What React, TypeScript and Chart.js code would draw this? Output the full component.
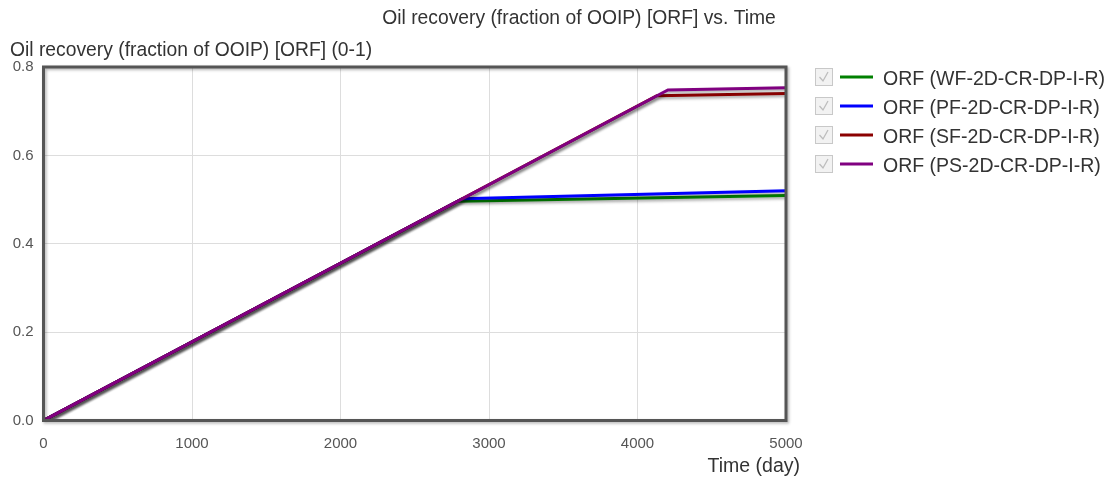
import React, { useEffect, useRef } from "react";
import { Chart, registerables } from "chart.js";

Chart.register(...registerables);

// Oil recovery factor (fraction of OOIP) over time for four recovery cases.
const seriesNames = [
  "ORF (WF-2D-CR-DP-I-R)",
  "ORF (PF-2D-CR-DP-I-R)",
  "ORF (SF-2D-CR-DP-I-R)",
  "ORF (PS-2D-CR-DP-I-R)",
];
const seriesColors = ["#008000", "#0000ff", "#8b0000", "#800080"];

const wfDays = [0, 2790, 5000];
const wfOrf = [0, 0.496, 0.509];
const pfDays = [0, 2820, 5000];
const pfOrf = [0, 0.502, 0.52];
const sfDays = [0, 4130, 5000];
const sfOrf = [0, 0.735, 0.74];
const psDays = [0, 4205, 5000];
const psOrf = [0, 0.748, 0.753];

const xTicks = [0, 1000, 2000, 3000, 4000, 5000];
const yTicks = [0, 0.2, 0.4, 0.6, 0.8];

const chartTitle = "Oil recovery (fraction of OOIP) [ORF] vs. Time";
const yTitle = "Oil recovery (fraction of OOIP) [ORF] (0-1)";
const xTitle = "Time (day)";

const FONT = '"Liberation Sans", Arial, sans-serif';

const toPoints = (days: number[], vals: number[]) =>
  days.map((d, i) => ({ x: d, y: vals[i] }));

const decorations = {
  id: "decorations",
  beforeDatasetDraw(chart: any) {
    const ctx = chart.ctx;
    ctx.save();
    ctx.shadowColor = "rgba(0,0,0,0.35)";
    ctx.shadowBlur = 3;
    ctx.shadowOffsetX = 1.5;
    ctx.shadowOffsetY = 2;
  },
  afterDatasetDraw(chart: any) {
    chart.ctx.restore();
  },
  afterDraw(chart: any) {
    const ctx = chart.ctx;
    const a = chart.chartArea;
    // plot frame
    ctx.save();
    ctx.shadowColor = "rgba(0,0,0,0.3)";
    ctx.shadowBlur = 3;
    ctx.shadowOffsetX = 1.5;
    ctx.shadowOffsetY = 1.5;
    ctx.strokeStyle = "#555555";
    ctx.lineWidth = 3;
    ctx.strokeRect(a.left, a.top, a.right - a.left, a.bottom - a.top);
    ctx.restore();

    ctx.save();
    ctx.fillStyle = "#333333";
    ctx.font = `19.3px ${FONT}`;
    ctx.textBaseline = "alphabetic";
    ctx.textAlign = "center";
    ctx.fillText(chartTitle, 579, 24);
    ctx.textAlign = "left";
    ctx.fillText(yTitle, 10, 56);
    ctx.textAlign = "right";
    ctx.font = `19.5px ${FONT}`;
    ctx.fillText(xTitle, 800, 472);

    // legend
    const rowY = [77, 106, 135, 164];
    ctx.font = `19.5px ${FONT}`;
    ctx.textAlign = "left";
    seriesNames.forEach((name, i) => {
      const y = rowY[i];
      ctx.fillStyle = "#f2f2f2";
      ctx.strokeStyle = "#c8c8c8";
      ctx.lineWidth = 1;
      ctx.fillRect(815.5, y - 8.5, 17, 17);
      ctx.strokeRect(815.5, y - 8.5, 17, 17);
      ctx.strokeStyle = "#bdbdbd";
      ctx.lineWidth = 1.3;
      ctx.beginPath();
      ctx.moveTo(819.5, y);
      ctx.lineTo(823, y + 4);
      ctx.lineTo(828, y - 5);
      ctx.stroke();
      ctx.strokeStyle = seriesColors[i];
      ctx.lineWidth = 3;
      ctx.beginPath();
      ctx.moveTo(840, y);
      ctx.lineTo(873, y);
      ctx.stroke();
      ctx.fillStyle = "#333333";
      ctx.fillText(name, 883, y + 8);
    });
    ctx.restore();
  },
};

export default function App() {
  const canvasRef = useRef<HTMLCanvasElement | null>(null);

  useEffect(() => {
    if (!canvasRef.current) return;
    const allDays = [wfDays, pfDays, sfDays, psDays];
    const allVals = [wfOrf, pfOrf, sfOrf, psOrf];
    const chart = new Chart(canvasRef.current, {
      type: "line",
      data: {
        datasets: seriesNames.map((name, i) => ({
          label: name,
          data: toPoints(allDays[i], allVals[i]),
          borderColor: seriesColors[i],
          backgroundColor: seriesColors[i],
          borderWidth: 3,
          pointRadius: 0,
          tension: 0,
          fill: false,
          // later series are painted over earlier ones
          order: seriesNames.length - i,
        })),
      },
      options: {
        animation: false,
        responsive: false,
        layout: { padding: { top: 67, left: 0, right: 323, bottom: 0 } },
        plugins: {
          legend: { display: false },
          title: { display: false },
          tooltip: { enabled: false },
        },
        scales: {
          x: {
            type: "linear",
            min: 0,
            max: 5000,
            afterBuildTicks: (scale: any) => {
              scale.ticks = xTicks.map((v) => ({ value: v }));
            },
            afterFit: (scale: any) => {
              scale.height = 56.5;
            },
            grid: { color: "#dddddd", drawTicks: false },
            border: { display: false },
            ticks: {
              color: "#555555",
              font: { family: FONT, size: 15 },
              padding: 14,
              maxRotation: 0,
              callback: (v: any) => String(v),
            },
          },
          y: {
            type: "linear",
            min: 0,
            max: 0.8,
            afterBuildTicks: (scale: any) => {
              scale.ticks = yTicks.map((v) => ({ value: v }));
            },
            afterFit: (scale: any) => {
              scale.width = 43.5;
            },
            grid: { color: "#dddddd", drawTicks: false },
            border: { display: false },
            ticks: {
              color: "#555555",
              font: { family: FONT, size: 15 },
              padding: 10,
              callback: (v: any) => Number(v).toFixed(1),
            },
          },
        },
      },
      plugins: [decorations],
    });
    return () => chart.destroy();
  }, []);

  return (
    <div style={{ position: "absolute", left: 0, top: 0, width: 1109, height: 477, background: "#fff" }}>
      <canvas ref={canvasRef} width={1109} height={477} />
    </div>
  );
}
